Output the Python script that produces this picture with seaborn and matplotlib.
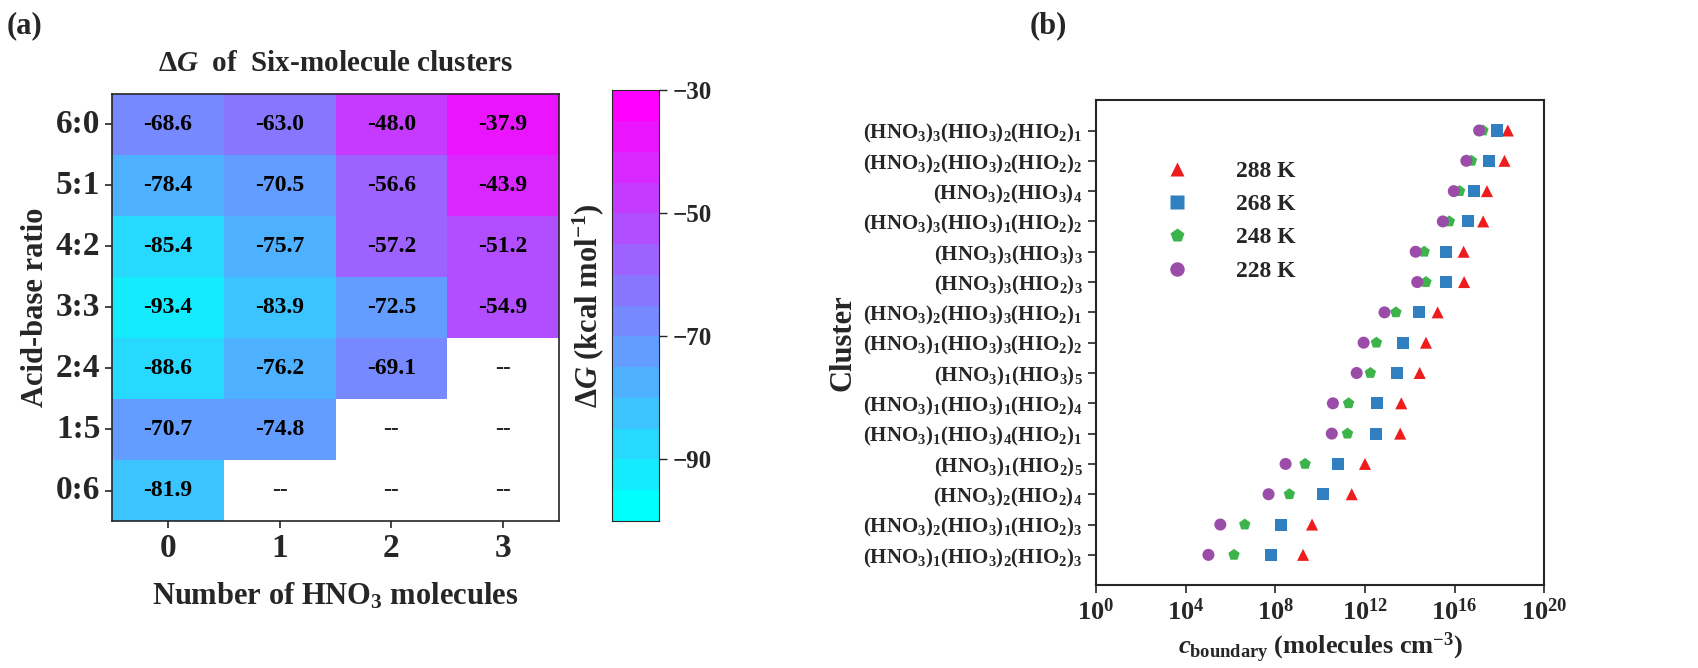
import numpy as np
import pandas as pd
import matplotlib
matplotlib.use("Agg")
import matplotlib.pyplot as plt
import seaborn as sns

sns.set_style("ticks")
plt.rcParams['font.family'] = ['Liberation Serif', 'DejaVu Serif']
plt.rcParams['font.weight'] = 'bold'
plt.rcParams['axes.labelweight'] = 'bold'
plt.rcParams['mathtext.fontset'] = 'custom'
plt.rcParams['mathtext.rm'] = 'Liberation Serif:bold'
plt.rcParams['mathtext.it'] = 'Liberation Serif:italic:bold'
plt.rcParams['mathtext.bf'] = 'Liberation Serif:bold'
plt.rcParams['mathtext.default'] = 'regular'

# ---- panel (a) data ----
ratios = ["6:0", "5:1", "4:2", "3:3", "2:4", "1:5", "0:6"]
hno3 = ["0", "1", "2", "3"]
dg_0 = [-68.6, -78.4, -85.4, -93.4, -88.6, -70.7, -81.9]
dg_1 = [-63.0, -70.5, -75.7, -83.9, -76.2, -74.8, np.nan]
dg_2 = [-48.0, -56.6, -57.2, -72.5, -69.1, np.nan, np.nan]
dg_3 = [-37.9, -43.9, -51.2, -54.9, np.nan, np.nan, np.nan]

# ---- panel (b) data ----
clusters = [
    r"(HNO$_3$)$_3$(HIO$_3$)$_2$(HIO$_2$)$_1$",
    r"(HNO$_3$)$_2$(HIO$_3$)$_2$(HIO$_2$)$_2$",
    r"(HNO$_3$)$_2$(HIO$_3$)$_4$",
    r"(HNO$_3$)$_3$(HIO$_3$)$_1$(HIO$_2$)$_2$",
    r"(HNO$_3$)$_3$(HIO$_3$)$_3$",
    r"(HNO$_3$)$_3$(HIO$_2$)$_3$",
    r"(HNO$_3$)$_2$(HIO$_3$)$_3$(HIO$_2$)$_1$",
    r"(HNO$_3$)$_1$(HIO$_3$)$_3$(HIO$_2$)$_2$",
    r"(HNO$_3$)$_1$(HIO$_3$)$_5$",
    r"(HNO$_3$)$_1$(HIO$_3$)$_1$(HIO$_2$)$_4$",
    r"(HNO$_3$)$_1$(HIO$_3$)$_4$(HIO$_2$)$_1$",
    r"(HNO$_3$)$_1$(HIO$_2$)$_5$",
    r"(HNO$_3$)$_2$(HIO$_2$)$_4$",
    r"(HNO$_3$)$_2$(HIO$_3$)$_1$(HIO$_2$)$_3$",
    r"(HNO$_3$)$_1$(HIO$_3$)$_2$(HIO$_2$)$_3$",
]
log_288 = [18.37, 18.22, 17.44, 17.27, 16.40, 16.42, 15.24, 14.72, 14.44, 13.62, 13.57, 12.00, 11.41, 9.64, 9.24]
log_268 = [17.87, 17.55, 16.87, 16.59, 15.60, 15.63, 14.39, 13.71, 13.42, 12.54, 12.48, 10.78, 10.13, 8.25, 7.81]
log_248 = [17.26, 16.75, 16.22, 15.76, 14.64, 14.72, 13.38, 12.51, 12.24, 11.27, 11.22, 9.33, 8.63, 6.64, 6.16]
log_228 = [17.09, 16.52, 15.96, 15.47, 14.26, 14.33, 12.87, 11.94, 11.63, 10.57, 10.52, 8.46, 7.70, 5.55, 5.02]
temps = ["288 K", "268 K", "248 K", "228 K"]

fig = plt.figure(figsize=(16.99, 6.68), dpi=100)

# ---------- (a) heatmap ----------
ax1 = fig.add_axes([0.066, 0.22, 0.263, 0.64])
cax = fig.add_axes([0.360, 0.22, 0.028, 0.645])
mat = pd.DataFrame({"0": dg_0, "1": dg_1, "2": dg_2, "3": dg_3}, index=ratios)
cmap = plt.get_cmap("cool", 14)
sns.heatmap(mat, ax=ax1, cbar_ax=cax, cmap=cmap, vmin=-100, vmax=-30,
            annot=True, fmt=".1f",
            annot_kws={"fontsize": 17, "fontweight": "bold", "color": "black"})
for i in range(mat.shape[0]):
    for j in range(mat.shape[1]):
        if np.isnan(mat.values[i, j]):
            ax1.text(j + 0.5, i + 0.5, "--", ha="center", va="center",
                     fontsize=17, fontweight="bold")
for s in ax1.spines.values():
    s.set_visible(True)
    s.set_linewidth(1.2)
ax1.tick_params(labelsize=24, length=5, width=1.2)
ax1.set_yticklabels(ratios, rotation=0)
ax1.set_xlabel(r"Number of HNO$_3$ molecules", fontsize=22, labelpad=12)
ax1.set_ylabel("Acid-base ratio", fontsize=22)
ax1.set_title(r"$\Delta\mathit{G}$  of  Six-molecule clusters", fontsize=21,
              fontweight="bold", pad=16)
cax.set_yticks([-30, -50, -70, -90])
cax.tick_params(labelsize=18, length=6, width=1)
cax.set_ylabel(r"$\Delta\mathit{G}$ (kcal mol$^{-1}$)", fontsize=22, labelpad=4)
cax.yaxis.set_label_position("left")
for s in cax.spines.values():
    s.set_visible(True)
fig.text(0.004, 0.95, "(a)", fontsize=22, fontweight="bold")
fig.text(0.606, 0.95, "(b)", fontsize=22, fontweight="bold")

# ---------- (b) scatter ----------
ax2 = fig.add_axes([0.645, 0.124, 0.264, 0.726])
ypos = np.arange(len(clusters))
df = pd.concat([
    pd.DataFrame({"c": 10 ** np.array(v), "y": ypos, "T": t})
    for v, t in zip([log_288, log_268, log_248, log_228], temps)
])
palette = {"288 K": "#ee1c1c", "268 K": "#2f7fc1", "248 K": "#3cb44b", "228 K": "#9b4ca8"}
markers = {"288 K": "^", "268 K": "s", "248 K": "p", "228 K": "o"}
sns.scatterplot(data=df, x="c", y="y", hue="T", style="T", palette=palette,
                markers=markers, hue_order=temps, style_order=temps,
                s=75, edgecolor="none", ax=ax2)
ax2.set_xscale("log")
ax2.set_xlim(1, 1e20)
ax2.set_xticks([1, 1e4, 1e8, 1e12, 1e16, 1e20])
ax2.set_xticklabels([r"10$^{0}$", r"10$^{4}$", r"10$^{8}$", r"10$^{12}$", r"10$^{16}$", r"10$^{20}$"])
ax2.set_ylim(len(clusters) + 0.0, -1.0)
ax2.set_yticks(ypos)
ax2.set_yticklabels(clusters, fontsize=15)
ax2.tick_params(axis="x", labelsize=19, width=1.2, length=6)
ax2.tick_params(axis="y", width=1.2, length=6)
for s in ax2.spines.values():
    s.set_linewidth(1.5)
ax2.set_xlabel(r"$\mathit{c}_{\rm boundary}$ (molecules cm$^{-3}$)", fontsize=19)
ax2.xaxis.label.set_size(19)
ax2.set_ylabel("Cluster", fontsize=22)
leg = ax2.legend(title=None, frameon=False, fontsize=17, loc="upper left",
                 bbox_to_anchor=(0.08, 0.92), handletextpad=1.5, labelspacing=0.5,
                 markerscale=1.2)
fig.savefig("out.png", dpi=100)
